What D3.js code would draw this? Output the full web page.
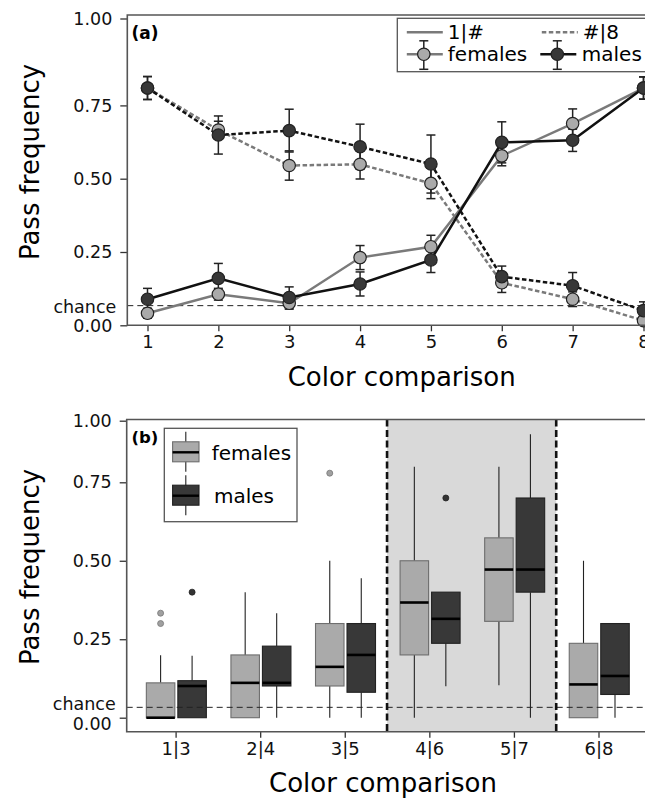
<!DOCTYPE html>
<html>
<head>
<meta charset="utf-8">
<script src="https://cdn.jsdelivr.net/npm/d3@7"></script>
<style>
  html, body { margin: 0; padding: 0; background: #fff; }
  svg { display: block; font-family: "DejaVu Sans", Verdana, sans-serif; }
</style>
</head>
<body>
<svg id="chart" width="645" height="798"></svg>
<script>
// ---- panel (a): pass frequency per color comparison ----
const comparisons = [1, 2, 3, 4, 5, 6, 7, 8];
// "1|#" comparisons (solid lines)
const femalesFirst    = [0.041, 0.106, 0.075, 0.231, 0.268, 0.578, 0.688, 0.800];
const femalesFirstErr = [0.017, 0.020, 0.020, 0.041, 0.039, 0.034, 0.050, 0.032];
const malesFirst      = [0.089, 0.160, 0.095, 0.141, 0.223, 0.624, 0.631, 0.800];
const malesFirstErr   = [0.037, 0.051, 0.036, 0.041, 0.043, 0.070, 0.038, 0.032];
// "#|8" comparisons (dashed lines)
const femalesLast     = [0.800, 0.666, 0.545, 0.549, 0.484, 0.145, 0.089, 0.016];
const femalesLastErr  = [0.033, 0.030, 0.050, 0.050, 0.052, 0.033, 0.025, 0.015];
const malesLast       = [0.800, 0.649, 0.664, 0.609, 0.550, 0.166, 0.135, 0.050];
const malesLastErr    = [0.033, 0.065, 0.073, 0.077, 0.099, 0.036, 0.045, 0.030];
const chanceA = 0.067;

// ---- panel (b): distributions per neighbouring pair ----
const pairs = ['1|3', '2|4', '3|5', '4|6', '5|7', '6|8'];
const femalesLow    = [0, 0, 0, 0, 0.103, 0];
const femalesQ1     = [0, 0, 0.101, 0.200, 0.307, 0];
const femalesMedian = [0, 0.111, 0.162, 0.367, 0.472, 0.106];
const femalesQ3     = [0.111, 0.200, 0.300, 0.500, 0.573, 0.237];
const femalesHigh   = [0.199, 0.400, 0.500, 0.813, 0.813, 0.500];
const femalesOut    = [[0.300, 0.333], [], [0.787], [], [], []];
const malesLow      = [0, 0, 0, 0.100, 0, 0];
const malesQ1       = [0, 0.101, 0.081, 0.237, 0.400, 0.074];
const malesMedian   = [0.101, 0.111, 0.200, 0.315, 0.472, 0.133];
const malesQ3       = [0.118, 0.228, 0.300, 0.400, 0.700, 0.300];
const malesHigh     = [0.197, 0.333, 0.444, 0.400, 0.945, 0.300];
const malesOut      = [[0.400], [], [], [0.700], [], []];
const shadedPairs = ['4|6', '5|7'];
const chanceB = 0.033;

const yTicks = [0, 0.25, 0.5, 0.75, 1];

const femaleFill = '#aaaaaa';
const maleFill = '#383838';
const frameColor = '#555';

const svg = d3.select('#chart');

function styleAxis(g, size) {
    g.select('.domain').remove();
    g.selectAll('.tick line').attr('stroke', '#333').attr('stroke-width', 1.3);
    g.selectAll('.tick text')
        .attr('fill', '#111')
        .style('font-size', size + 'px')
        .style('font-family', '"DejaVu Sans", Verdana, sans-serif');
}

// chanceShift / zeroShift nudge the two close labels apart like the reference does
function yAxis(g, y, chance, left, chanceShift, zeroShift) {
    const ax = g.append('g')
        .attr('transform', `translate(${left},0)`)
        .call(d3.axisLeft(y)
            .tickValues([chance].concat(yTicks))
            .tickFormat(d => d === chance ? 'chance' : d3.format('.2f')(d))
            .tickSize(7)
            .tickPadding(8));
    styleAxis(ax, 17.5);
    const chanceTick = ax.selectAll('.tick').filter(d => d === chance);
    chanceTick.select('line').remove();
    chanceTick.select('text').attr('x', -11).attr('y', chanceShift);
    ax.selectAll('.tick').filter(d => d === 0).select('text').attr('y', zeroShift);
    return ax;
}

// ================= panel (a) =================
function drawPanelA() {
    const left = 127.3, top = 15, bottom = 325.3, right = 690;
    const x = d3.scaleLinear().domain([1, 8]).range([147.5, 643.5]);
    // the reference axis gives the top quarter a shorter span
    const y = d3.scaleLinear().domain([0, 0.75, 1]).range([bottom, 105.4, 18.5]);

    const g = svg.append('g');

    yAxis(g, y, chanceA, left, 1, 1);
    const xa = g.append('g')
        .attr('transform', `translate(0,${bottom})`)
        .call(d3.axisBottom(x).tickValues(comparisons).tickFormat(d3.format('d'))
            .tickSize(6).tickPadding(4));
    styleAxis(xa, 18);

    g.append('line')
        .attr('x1', left).attr('x2', right)
        .attr('y1', y(chanceA)).attr('y2', y(chanceA))
        .attr('stroke', '#222').attr('stroke-width', 1)
        .attr('stroke-dasharray', '6,4');

    const series = [
        { values: femalesLast, err: femalesLastErr, fill: femaleFill, line: '#7a7a7a', dash: '4.5,2.5' },
        { values: malesLast, err: malesLastErr, fill: maleFill, line: '#111', dash: '4.5,2.5' },
        { values: femalesFirst, err: femalesFirstErr, fill: femaleFill, line: '#7a7a7a', dash: null },
        { values: malesFirst, err: malesFirstErr, fill: maleFill, line: '#111', dash: null }
    ];

    const line = d3.line()
        .x((d, i) => x(comparisons[i]))
        .y(d => y(d));

    series.forEach(s => {
        g.append('path')
            .datum(s.values)
            .attr('d', line)
            .attr('fill', 'none')
            .attr('stroke', s.line)
            .attr('stroke-width', 2.5)
            .attr('stroke-dasharray', s.dash);
    });

    series.forEach(s => {
        const eb = g.append('g').selectAll('g')
            .data(s.values.map((v, i) => ({ x: comparisons[i], v: v, e: s.err[i] })))
            .enter().append('g')
            .attr('stroke', '#222')
            .attr('stroke-width', 1.5);
        eb.append('line')
            .attr('x1', d => x(d.x)).attr('x2', d => x(d.x))
            .attr('y1', d => y(d.v - d.e)).attr('y2', d => y(d.v + d.e));
        eb.append('line')
            .attr('x1', d => x(d.x) - 4.5).attr('x2', d => x(d.x) + 4.5)
            .attr('y1', d => y(d.v - d.e)).attr('y2', d => y(d.v - d.e));
        eb.append('line')
            .attr('x1', d => x(d.x) - 4.5).attr('x2', d => x(d.x) + 4.5)
            .attr('y1', d => y(d.v + d.e)).attr('y2', d => y(d.v + d.e));
    });

    series.forEach(s => {
        g.append('g').selectAll('circle')
            .data(s.values)
            .enter().append('circle')
            .attr('cx', (d, i) => x(comparisons[i]))
            .attr('cy', d => y(d))
            .attr('r', 6.2)
            .attr('fill', s.fill)
            .attr('stroke', '#222')
            .attr('stroke-width', 1.2);
    });

    // frame
    g.append('path')
        .attr('d', `M${right},${top}H${left}V${bottom}H${right}`)
        .attr('fill', 'none')
        .attr('stroke', frameColor)
        .attr('stroke-width', 1.6);

    g.append('text')
        .attr('x', 131.5).attr('y', 38.5)
        .style('font-size', '17px').style('font-weight', 'bold')
        .text('(a)');

    // legend
    const lg = g.append('g').attr('transform', 'translate(397.3,18.3)');
    lg.append('rect')
        .attr('width', 300).attr('height', 53.4)
        .attr('fill', '#fff').attr('stroke', frameColor).attr('stroke-width', 1.3);
    const items = [
        { x: 9.5, y: 14, label: '1|#', line: '#7a7a7a', dash: null, fill: null },
        { x: 144.5, y: 14, label: '#|8', line: '#7a7a7a', dash: '4.5,2.5', fill: null },
        { x: 9.5, y: 36, label: 'females', line: '#7a7a7a', dash: null, fill: femaleFill },
        { x: 143, y: 36, label: 'males', line: '#111', dash: null, fill: maleFill }
    ];
    items.forEach(it => {
        lg.append('line')
            .attr('x1', it.x).attr('x2', it.x + 36)
            .attr('y1', it.y).attr('y2', it.y)
            .attr('stroke', it.line).attr('stroke-width', 2.5)
            .attr('stroke-dasharray', it.dash);
        if (it.fill) {
            const cx = it.x + 17;
            lg.append('line')
                .attr('x1', cx).attr('x2', cx).attr('y1', it.y - 13.5).attr('y2', it.y + 15)
                .attr('stroke', '#222').attr('stroke-width', 1.5);
            [it.y - 13.5, it.y + 15].forEach(cy => {
                lg.append('line')
                    .attr('x1', cx - 4.5).attr('x2', cx + 4.5).attr('y1', cy).attr('y2', cy)
                    .attr('stroke', '#222').attr('stroke-width', 1.5);
            });
            lg.append('circle')
                .attr('cx', cx).attr('cy', it.y).attr('r', 6.2)
                .attr('fill', it.fill).attr('stroke', '#222').attr('stroke-width', 1.2);
        }
        lg.append('text')
            .attr('x', it.x + (it.fill && it.label === 'males' ? 41.5 : 41))
            .attr('y', it.y + 7)
            .style('font-size', '20px')
            .text(it.label);
    });

    g.append('text')
        .attr('transform', 'translate(39,162) rotate(-90)')
        .attr('text-anchor', 'middle')
        .style('font-size', '26px')
        .text('Pass frequency');
    g.append('text')
        .attr('x', 401.7).attr('y', 386)
        .attr('text-anchor', 'middle')
        .style('font-size', '26px')
        .text('Color comparison');
}

// ================= panel (b) =================
function drawPanelB() {
    const left = 126.7, top = 419.5, bottom = 731.7, right = 690;
    const x = d3.scalePoint().domain(pairs).range([175.6, 598.5]);
    const y = d3.scaleLinear().domain([0, 0.75, 1]).range([717.7, 482.3, 420.7]);
    const step = x.step();
    const boxW = 28.5;
    const offF = -15, offM = 16.5;

    const g = svg.append('g');

    // shaded block
    const sx0 = x(shadedPairs[0]) - step / 2;
    const sx1 = x(shadedPairs[shadedPairs.length - 1]) + step / 2;
    g.append('rect')
        .attr('x', sx0).attr('y', top)
        .attr('width', sx1 - sx0).attr('height', bottom - top)
        .attr('fill', '#d9d9d9');

    yAxis(g, y, chanceB, left, -3, 6);
    const xa = g.append('g')
        .attr('transform', `translate(0,${bottom})`)
        .call(d3.axisBottom(x).tickSize(6).tickPadding(5));
    styleAxis(xa, 18);

    const groups = [
        { off: offF, low: femalesLow, q1: femalesQ1, med: femalesMedian, q3: femalesQ3, high: femalesHigh,
          out: femalesOut, fill: femaleFill, stroke: '#6e6e6e', outFill: '#a0a0a0', outStroke: '#777' },
        { off: offM, low: malesLow, q1: malesQ1, med: malesMedian, q3: malesQ3, high: malesHigh,
          out: malesOut, fill: maleFill, stroke: '#222', outFill: '#333', outStroke: '#222' }
    ];

    groups.forEach(s => {
        const rows = pairs.map((p, i) => ({
            cx: x(p) + s.off, low: s.low[i], q1: s.q1[i], med: s.med[i], q3: s.q3[i], high: s.high[i], out: s.out[i]
        }));
        const b = g.append('g').selectAll('g').data(rows).enter().append('g');
        b.append('line')
            .attr('x1', d => d.cx).attr('x2', d => d.cx)
            .attr('y1', d => y(d.low)).attr('y2', d => y(d.q1))
            .attr('stroke', '#222').attr('stroke-width', 1.1);
        b.append('line')
            .attr('x1', d => d.cx).attr('x2', d => d.cx)
            .attr('y1', d => y(d.q3)).attr('y2', d => y(d.high))
            .attr('stroke', '#222').attr('stroke-width', 1.1);
        b.append('rect')
            .attr('x', d => d.cx - boxW / 2).attr('width', boxW)
            .attr('y', d => y(d.q3)).attr('height', d => y(d.q1) - y(d.q3))
            .attr('fill', s.fill).attr('stroke', s.stroke).attr('stroke-width', 1.1);
        b.append('line')
            .attr('x1', d => d.cx - boxW / 2).attr('x2', d => d.cx + boxW / 2)
            .attr('y1', d => y(d.med)).attr('y2', d => y(d.med))
            .attr('stroke', '#000').attr('stroke-width', 2.6);
        b.selectAll('circle').data(d => d.out.map(v => ({ cx: d.cx, v: v })))
            .enter().append('circle')
            .attr('cx', d => d.cx).attr('cy', d => y(d.v)).attr('r', 3)
            .attr('fill', s.outFill).attr('stroke', s.outStroke).attr('stroke-width', 0.8);
    });

    g.append('line')
        .attr('x1', left).attr('x2', right)
        .attr('y1', y(chanceB)).attr('y2', y(chanceB))
        .attr('stroke', '#222').attr('stroke-width', 1)
        .attr('stroke-dasharray', '6,4');

    [sx0, sx1].forEach(vx => {
        g.append('line')
            .attr('x1', vx).attr('x2', vx).attr('y1', top).attr('y2', bottom)
            .attr('stroke', '#111').attr('stroke-width', 2.6)
            .attr('stroke-dasharray', '7,3.5');
    });

    g.append('path')
        .attr('d', `M${right},${top}H${left}V${bottom}H${right}`)
        .attr('fill', 'none')
        .attr('stroke', frameColor)
        .attr('stroke-width', 1.6);

    g.append('text')
        .attr('x', 131.5).attr('y', 443)
        .style('font-size', '16.5px').style('font-weight', 'bold')
        .text('(b)');

    // legend
    const lg = g.append('g').attr('transform', 'translate(164.3,428.3)');
    lg.append('rect')
        .attr('width', 132.7).attr('height', 93.4)
        .attr('fill', '#fff').attr('stroke', frameColor).attr('stroke-width', 1.3);
    const keys = [
        { y: 24, label: 'females', fill: femaleFill, stroke: '#6e6e6e', tx: 47.4 },
        { y: 67.4, label: 'males', fill: maleFill, stroke: '#222', tx: 49.7 }
    ];
    keys.forEach(k => {
        const cx = 21.5;
        lg.append('line')
            .attr('x1', cx).attr('x2', cx).attr('y1', k.y - 20.5).attr('y2', k.y + 19.5)
            .attr('stroke', '#222').attr('stroke-width', 1.1);
        lg.append('rect')
            .attr('x', cx - 13.2).attr('width', 26.4)
            .attr('y', k.y - 10.5).attr('height', 20)
            .attr('fill', k.fill).attr('stroke', k.stroke).attr('stroke-width', 1.1);
        lg.append('line')
            .attr('x1', cx - 13.2).attr('x2', cx + 13.2).attr('y1', k.y).attr('y2', k.y)
            .attr('stroke', '#000').attr('stroke-width', 2.4);
        lg.append('text')
            .attr('x', k.tx).attr('y', k.y + 7.5)
            .style('font-size', '20px')
            .text(k.label);
    });

    g.append('text')
        .attr('transform', 'translate(39,567) rotate(-90)')
        .attr('text-anchor', 'middle')
        .style('font-size', '26px')
        .text('Pass frequency');
    g.append('text')
        .attr('x', 383).attr('y', 792)
        .attr('text-anchor', 'middle')
        .style('font-size', '26px')
        .text('Color comparison');
}

drawPanelA();
drawPanelB();
</script>
</body>
</html>
